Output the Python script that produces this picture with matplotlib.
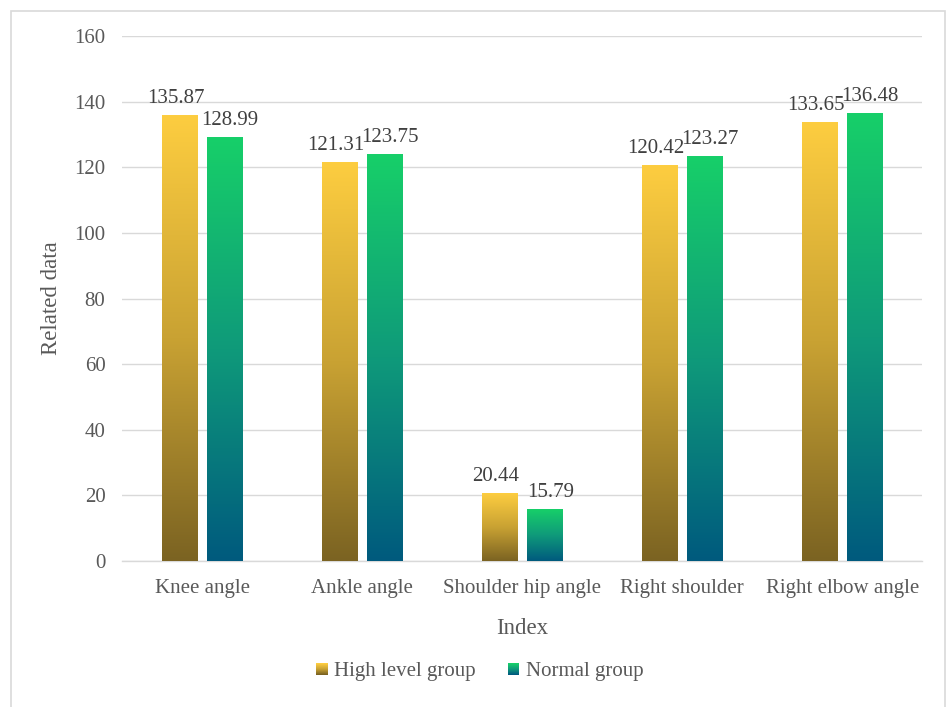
import numpy as np
import matplotlib.pyplot as plt
from matplotlib.colors import LinearSegmentedColormap
from matplotlib.patches import Rectangle
from matplotlib.legend_handler import HandlerBase

categories = ["Knee angle", "Ankle angle", "Shoulder hip angle", "Right shoulder", "Right elbow angle"]
high_level = [135.87, 121.31, 20.44, 120.42, 133.65]
normal = [128.99, 123.75, 15.79, 123.27, 136.48]
series_names = ["High level group", "Normal group"]
y_ticks = [0, 20, 40, 60, 80, 100, 120, 140, 160]

plt.rcParams['font.family'] = ['Liberation Serif', 'DejaVu Serif']

# bottom -> top colours of each bar's gradient
gold = LinearSegmentedColormap.from_list("gold", ["#7B6322", "#C9A233", "#FDCD40"])
teal = LinearSegmentedColormap.from_list("teal", ["#005A7E", "#0F9A7A", "#17CF69"])

fig = plt.figure(figsize=(9.47, 7.07), dpi=100)
ax = fig.add_axes([0.129, 0.2065, 0.845, 0.7425])

# light frame around the whole chart
fig.patches.append(Rectangle((11 / 947, -0.01), 934 / 947, 1 - 11 / 707 + 0.01,
                             transform=fig.transFigure, fill=False,
                             edgecolor="#D9D9D9", linewidth=1.2))

grad = np.linspace(0, 1, 256).reshape(-1, 1)
width = 0.22
offset = 0.14
x = np.arange(len(categories))

# value labels nudged apart a little so neighbouring numbers don't collide
for vals, cmap, dx, nudge in [(high_level, gold, -offset, -3), (normal, teal, offset, 4)]:
    for xi, v in zip(x, vals):
        x0 = xi + dx - width / 2
        ax.imshow(grad, cmap=cmap, origin="lower", aspect="auto",
                  extent=(x0, x0 + width, 0, v), zorder=3, interpolation="bilinear")
        ax.annotate(f"{v:.2f}", (xi + dx, v), xytext=(nudge, 9), textcoords="offset points",
                    ha="center", va="baseline", fontsize=15, color="#404040", zorder=4)

ax.set_xlim(-0.5, len(categories) - 0.5)
ax.set_ylim(0, 160)
ax.set_yticks(y_ticks)
ax.set_xticks(x)
ax.set_xticklabels(categories)
ax.tick_params(length=0, labelsize=15, colors="#595959")
ax.tick_params(axis="y", pad=12)
ax.tick_params(axis="x", pad=13)
ax.grid(axis="y", color="#D9D9D9", linewidth=1, zorder=0)
ax.set_axisbelow(True)
for s in ["top", "right", "left"]:
    ax.spines[s].set_visible(False)
ax.spines["bottom"].set_color("#D9D9D9")
ax.spines["bottom"].set_linewidth(1)

ax.set_xlabel("Index", fontsize=16.5, color="#595959", labelpad=14)
ax.set_ylabel("Related data", fontsize=16.5, color="#595959", labelpad=9)


class GradientHandler(HandlerBase):
    def __init__(self, cmap):
        super().__init__()
        self.cmap = cmap

    def create_artists(self, legend, orig_handle, xdescent, ydescent, width, height, fontsize, trans):
        n = 12
        size = height * 0.8
        x0 = width - size
        y0 = (height - size) / 2
        arts = []
        for i in range(n):
            r = Rectangle((x0, y0 + size * i / n), size, size / n,
                          facecolor=self.cmap(i / (n - 1)), edgecolor="none", transform=trans)
            arts.append(r)
        return arts


h1 = Rectangle((0, 0), 1, 1)
h2 = Rectangle((0, 0), 1, 1)
fig.legend([h1, h2], series_names, loc="center", bbox_to_anchor=(0.505, 0.05),
           ncol=2, frameon=False, fontsize=15, labelcolor="#595959",
           handler_map={h1: GradientHandler(gold), h2: GradientHandler(teal)},
           handlelength=0.7, handletextpad=0.3, columnspacing=1.4)

fig.savefig("out.png", dpi=100)
